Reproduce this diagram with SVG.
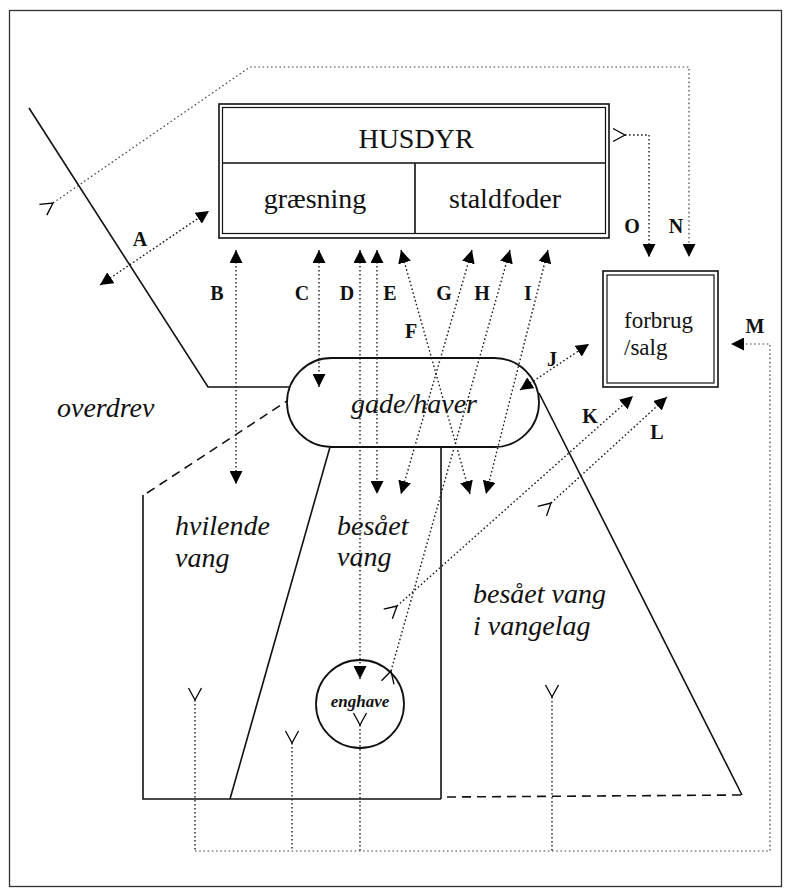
<svg xmlns="http://www.w3.org/2000/svg" width="785" height="888" viewBox="0 0 785 888">
<style>
.solid{fill:none;stroke:#111;stroke-width:1.6}
.dash{fill:none;stroke:#111;stroke-width:1.6;stroke-dasharray:9 6}
.dot{fill:none;stroke:#1a1a1a;stroke-width:1.4;stroke-dasharray:1.6 2.4}
.dotl{fill:none;stroke:#444;stroke-width:1.2;stroke-dasharray:1.6 2.6}
.both{marker-start:url(#ah);marker-end:url(#ah)}
.one{marker-start:url(#tail);marker-end:url(#ah)}
.tl{marker-start:url(#tail)}
.reg{font-family:"Liberation Serif","Times New Roman",serif;fill:#111}
.it{font-family:"Liberation Serif","Times New Roman",serif;font-style:italic;font-size:28px;fill:#111}
.lab{font-family:"Liberation Serif","Times New Roman",serif;font-weight:bold;font-size:20px;fill:#111;text-anchor:middle}
</style>
<defs>
<marker id="ah" viewBox="0 0 13 13" refX="13" refY="6.5" markerWidth="13" markerHeight="13" markerUnits="userSpaceOnUse" orient="auto-start-reverse"><path d="M0,0 L13,6.5 L0,13 z" fill="#000" stroke="none"/></marker>
<marker id="tail" viewBox="-14 -8 16 16" refX="0" refY="0" markerWidth="16" markerHeight="16" markerUnits="userSpaceOnUse" orient="auto"><path d="M-12,-6.5 L0,0 L-12,6.5" fill="none" stroke="#000" stroke-width="1.3"/></marker>
</defs>
<rect x="0" y="0" width="785" height="888" fill="#fff"/>
<rect x="9.5" y="10.5" width="772" height="876" fill="none" stroke="#333" stroke-width="1.3"/>

<g id="fields">
<path class="solid" d="M29,108 L208,387 H290"/>
<path class="dash" d="M147,493 L287,401"/>
<path class="solid" d="M143,495 V799 H441"/>
<path class="solid" d="M330,447 L230,799"/>
<path class="solid" d="M441,447 V799"/>
<path class="dash" d="M447,797 L742,795"/>
<path class="solid" d="M539,393 L742,795"/>
</g>

<g id="overdrev"><text class="it" x="57" y="417">overdrev</text></g>
<g id="hvilende-vang"><text class="it" x="175" y="535">hvilende</text><text class="it" x="175" y="567">vang</text></g>
<g id="besaet-vang"><text class="it" x="337" y="535">besået</text><text class="it" x="337" y="566">vang</text></g>
<g id="besaet-vang-vangelag"><text class="it" x="473" y="603">besået vang</text><text class="it" x="473" y="635">i vangelag</text></g>

<g id="husdyr">
<rect x="219" y="104" width="390" height="134" fill="#fff" stroke="#111" stroke-width="1.6"/>
<rect x="222.5" y="107.5" width="383" height="126" fill="none" stroke="#111" stroke-width="1.2"/>
<path class="solid" d="M222,163 H606 M415,163 V234" stroke-width="1.3"/>
<text class="reg" x="416" y="148" font-size="28" text-anchor="middle">HUSDYR</text>
<text class="reg" x="315" y="208" font-size="28" text-anchor="middle">græsning</text>
<text class="reg" x="505" y="208" font-size="28" text-anchor="middle">staldfoder</text>
</g>

<g id="forbrug-salg">
<rect x="603" y="271" width="115" height="116" fill="#fff" stroke="#111" stroke-width="1.6"/>
<rect x="607" y="275" width="107" height="108" fill="none" stroke="#111" stroke-width="1.2"/>
<text class="reg" x="624" y="328" font-size="23">forbrug</text>
<text class="reg" x="624" y="355" font-size="23">/salg</text>
</g>

<g id="gade-haver">
<rect x="287" y="358" width="252" height="89" rx="44.5" ry="44.5" fill="#fff" stroke="#111" stroke-width="1.8"/>
<text class="it" x="414" y="413" text-anchor="middle">gade/haver</text>
</g>

<g id="enghave">
<circle cx="360" cy="704" r="44" fill="#fff" stroke="#111" stroke-width="1.8"/>
<text class="reg" x="360" y="707" font-size="17" font-style="italic" font-weight="bold" text-anchor="middle">enghave</text>
</g>

<g id="connectors">
<path class="dotl one" d="M53,203 L250,67 H689 V257"/>
<path class="dot one" d="M625,135 H649 V257"/>
<path class="dot both" d="M100,285 L209,211"/>
<path class="dot both" d="M236,250 V484"/>
<path class="dot both" d="M319,250 V387"/>
<path class="dot both" d="M360,250 V679"/>
<path class="dot both" d="M377,250 V494"/>
<path class="dot both" d="M401,250 L470,494"/>
<path class="dot both" d="M472,250 L401,494"/>
<path class="dot one" d="M391,671 L510,250"/>
<path class="dot both" d="M548,250 L486,494"/>
<path class="dot both" d="M520,390 L589,344"/>
<path class="dot one" d="M397,606 L633,396"/>
<path class="dot one" d="M551,503 L667,397"/>
<path class="dot tl" d="M195,700 V851"/>
<path class="dot tl" d="M292,743 V851"/>
<path class="dot tl" d="M360,725 V851"/>
<path class="dot tl" d="M552,697 V851"/>
<path class="dotl" d="M195,851 H770 V344 H731" marker-end="url(#ah)"/>
</g>

<g id="labels">
<text class="lab" x="140" y="246">A</text>
<text class="lab" x="217" y="300">B</text>
<text class="lab" x="302" y="300">C</text>
<text class="lab" x="347" y="300">D</text>
<text class="lab" x="390" y="300">E</text>
<text class="lab" x="411" y="338">F</text>
<text class="lab" x="444" y="300">G</text>
<text class="lab" x="482" y="300">H</text>
<text class="lab" x="528" y="300">I</text>
<text class="lab" x="552" y="366">J</text>
<text class="lab" x="590" y="423">K</text>
<text class="lab" x="657" y="439">L</text>
<text class="lab" x="755" y="333">M</text>
<text class="lab" x="676" y="233">N</text>
<text class="lab" x="632" y="233">O</text>
</g>
</svg>
